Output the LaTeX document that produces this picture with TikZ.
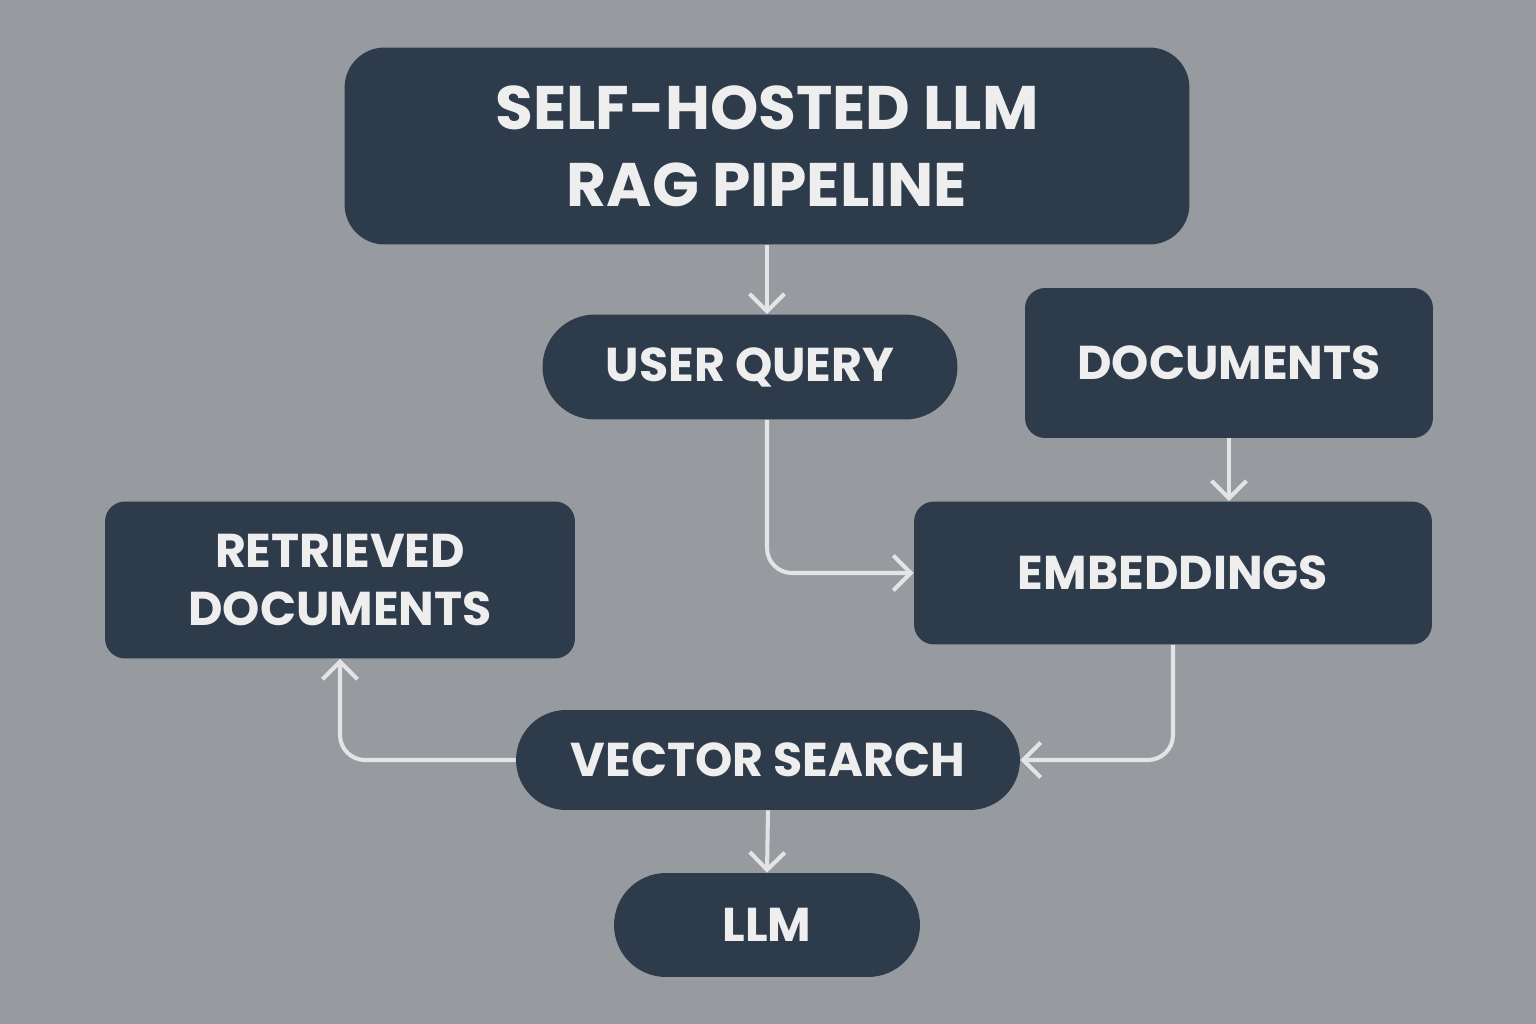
\documentclass[tikz,border=0pt]{standalone}
\usepackage{fontspec}
\setmainfont{Poppins}
\usetikzlibrary{arrows.meta}
\definecolor{bg}{HTML}{979BA0}
\definecolor{box}{HTML}{2E3B4A}
\definecolor{txt}{HTML}{EEEEEE}
\definecolor{ln}{HTML}{E4E4E4}
\begin{document}
\begin{tikzpicture}[x=0.02cm,y=-0.02cm,
  b/.style={fill=box,draw=none,text=txt,align=center,font=\fontsize{27}{33}\selectfont\bfseries,inner sep=0pt},
  conn/.style={draw=ln,line width=2.3pt,rounded corners=0.5cm,-{Straight Barb[length=3.5mm,width=7mm,line width=2.3pt]}}]
\fill[bg] (0,0) rectangle (1536,1024);
\useasboundingbox (0,0) rectangle (1536,1024);
\node[b,minimum width=16.9cm,minimum height=3.94cm,rounded corners=0.8cm,font=\fontsize{35}{44}\selectfont\bfseries] (title) at (767,146) {SELF-HOSTED LLM\\RAG PIPELINE};
\node[b,minimum width=8.3cm,minimum height=2.1cm,rounded corners=1.05cm] (uq) at (750,367) {USER QUERY};
\node[b,minimum width=8.16cm,minimum height=3.0cm,rounded corners=0.4cm] (doc) at (1229,363) {DOCUMENTS};
\node[b,minimum width=10.36cm,minimum height=2.86cm,rounded corners=0.4cm] (emb) at (1173,573) {EMBEDDINGS};
\node[b,minimum width=9.4cm,minimum height=3.14cm,rounded corners=0.4cm] (ret) at (340,580) {RETRIEVED\\DOCUMENTS};
\node[b,minimum width=10.08cm,minimum height=2.0cm,rounded corners=1.0cm] (vs) at (768,760) {VECTOR SEARCH};
\node[b,minimum width=6.12cm,minimum height=2.08cm,rounded corners=1.04cm] (llm) at (767,925) {LLM};
\draw[conn] (title.south) -- (title.south |- uq.north);
\draw[conn] (title.south |- uq.south) |- (emb.west);
\draw[conn] (doc.south) -- (emb.north -| doc.south);
\draw[conn] (emb.south) |- (vs.east);
\draw[conn] (vs.west) -| (ret.south);
\draw[conn] (vs.south) -- (llm.north);
\end{tikzpicture}
\end{document}
